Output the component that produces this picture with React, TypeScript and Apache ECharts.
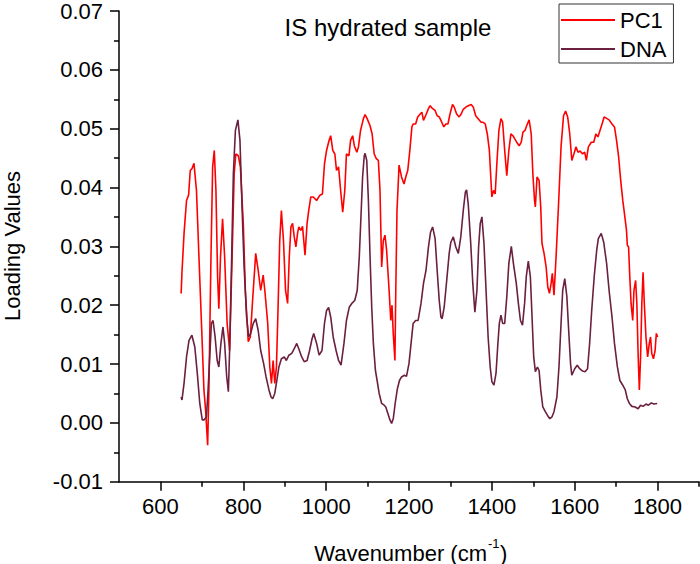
import React, { useEffect, useRef } from "react";
import * as echarts from "echarts";

const pc1Wavenumbers = [
  650, 652, 657, 663, 668, 672, 676, 681, 687, 693, 700, 705, 709, 714, 717, 722, 726, 730, 734, 738,
  741, 745, 750, 755, 761, 767, 773, 778, 782, 788, 793, 800, 805, 812, 817, 823, 830, 836, 842, 848,
  852, 859, 864, 868, 872, 876, 880, 884, 888, 892, 897, 902, 907, 911, 915, 919, 923, 927, 931, 934,
  939, 943, 949, 954, 958, 963, 969, 977, 985, 991, 996, 1001, 1007, 1011, 1016, 1021, 1025, 1030, 1035, 1040,
  1045, 1049, 1055, 1059, 1064, 1068, 1074, 1078, 1083, 1090, 1094, 1099, 1106, 1111, 1116, 1121, 1126, 1130, 1134, 1138,
  1142, 1146, 1152, 1156, 1159, 1162, 1166, 1168, 1171, 1176, 1182, 1188, 1193, 1197, 1202, 1207, 1210, 1216, 1221, 1227,
  1231, 1235, 1240, 1247, 1251, 1257, 1263, 1268, 1273, 1279, 1284, 1289, 1294, 1299, 1305, 1309, 1315, 1321, 1326, 1331,
  1338, 1343, 1350, 1355, 1361, 1367, 1374, 1378, 1384, 1389, 1394, 1397, 1400, 1404, 1408, 1412, 1417, 1422, 1426, 1431,
  1436, 1441, 1446, 1451, 1455, 1460, 1466, 1471, 1475, 1480, 1484, 1490, 1495, 1499, 1503, 1505, 1509, 1514, 1518, 1521,
  1526, 1531, 1535, 1539, 1543, 1546, 1550, 1555, 1561, 1567, 1573, 1578, 1583, 1588, 1593, 1598, 1603, 1608, 1613, 1619,
  1624, 1628, 1633, 1640, 1646, 1651, 1656, 1661, 1666, 1671, 1678, 1683, 1690, 1696, 1701, 1706, 1711, 1716, 1720, 1725,
  1727, 1730, 1733, 1736, 1740, 1743, 1747, 1750, 1753, 1756, 1759, 1762, 1765, 1768, 1772, 1776, 1780, 1783, 1786, 1790,
  1794, 1797, 1800,
];
const pc1Loadings = [
  0.022, 0.0256, 0.0322, 0.0378, 0.0387, 0.0429, 0.0432, 0.0441, 0.0395, 0.0282, 0.0152, 0.0056, 0.0022, -0.0038, 0.0056, 0.0282, 0.0435, 0.0463, 0.0395, 0.0248,
  0.0194, 0.0282, 0.0347, 0.0282, 0.0169, 0.0123, 0.0282, 0.0423, 0.0457, 0.0454, 0.0435, 0.0339, 0.0225, 0.0138, 0.0146, 0.0214, 0.0288, 0.0259, 0.0225, 0.0251,
  0.0225, 0.0169, 0.0095, 0.0067, 0.0106, 0.0067, 0.0095, 0.0197, 0.031, 0.0361, 0.031, 0.0225, 0.0203, 0.0282, 0.0333, 0.0339, 0.0316, 0.0299, 0.0322, 0.0333,
  0.0327, 0.0334, 0.0285, 0.0339, 0.0361, 0.0384, 0.0384, 0.0378, 0.0387, 0.0389, 0.044, 0.0463, 0.048, 0.0488, 0.0463, 0.0457, 0.0429, 0.0435, 0.0395, 0.0358,
  0.0395, 0.0457, 0.0454, 0.048, 0.0488, 0.0471, 0.046, 0.0469, 0.0497, 0.0517, 0.0524, 0.0517, 0.0505, 0.0491, 0.0457, 0.0449, 0.0446, 0.0395, 0.0265, 0.031,
  0.0319, 0.0293, 0.0225, 0.0174, 0.02, 0.0152, 0.0106, 0.022, 0.036, 0.0438, 0.0418, 0.0406, 0.042, 0.0429, 0.0463, 0.0503, 0.0508, 0.0508, 0.052, 0.0525,
  0.0528, 0.0514, 0.0522, 0.0534, 0.0539, 0.0534, 0.0531, 0.0522, 0.052, 0.0511, 0.0503, 0.0508, 0.0508, 0.0525, 0.0541, 0.0537, 0.0525, 0.052, 0.0525, 0.0533,
  0.0537, 0.0539, 0.0541, 0.0537, 0.0522, 0.0517, 0.0511, 0.0511, 0.0508, 0.0491, 0.0463, 0.0423, 0.0384, 0.0395, 0.0389, 0.044, 0.0497, 0.0517, 0.0511, 0.0463,
  0.042, 0.0463, 0.0491, 0.0488, 0.0483, 0.0477, 0.0471, 0.0477, 0.0494, 0.0497, 0.0505, 0.0515, 0.0491, 0.0423, 0.0378, 0.0367, 0.0418, 0.0412, 0.0367, 0.0305,
  0.0288, 0.0265, 0.0231, 0.022, 0.0237, 0.0254, 0.0217, 0.0282, 0.0372, 0.0469, 0.0522, 0.053, 0.052, 0.0491, 0.0446, 0.0457, 0.0469, 0.046, 0.0462, 0.0457,
  0.046, 0.0446, 0.0469, 0.0477, 0.0477, 0.0491, 0.0486, 0.0497, 0.0508, 0.052, 0.0517, 0.0515, 0.0508, 0.0503, 0.048, 0.0452, 0.0412, 0.0378, 0.0356, 0.0327,
  0.0302, 0.0299, 0.0248, 0.0203, 0.0174, 0.0225, 0.0242, 0.0203, 0.0118, 0.0056, 0.0112, 0.0203, 0.0256, 0.0203, 0.0146, 0.0112, 0.0135, 0.0146, 0.0118, 0.0109,
  0.0123, 0.0152, 0.0146,
];

const dnaWavenumbers = [
  650, 652, 657, 663, 669, 676, 683, 689, 695, 701, 705, 711, 715, 719, 723, 727, 732, 737, 741, 746,
  751, 755, 760, 764, 767, 772, 776, 781, 787, 792, 797, 802, 808, 813, 818, 824, 830, 836, 842, 849,
  855, 862, 867, 871, 876, 881, 886, 892, 899, 904, 910, 917, 923, 929, 934, 941, 947, 954, 960, 966,
  970, 977, 983, 990, 996, 1001, 1006, 1011, 1017, 1024, 1030, 1036, 1043, 1049, 1056, 1062, 1069, 1075, 1080, 1084,
  1088, 1092, 1094, 1098, 1102, 1106, 1110, 1114, 1119, 1123, 1128, 1134, 1140, 1144, 1149, 1154, 1158, 1162, 1167, 1172,
  1177, 1182, 1189, 1194, 1200, 1205, 1210, 1216, 1222, 1229, 1235, 1241, 1247, 1252, 1257, 1263, 1268, 1273, 1277, 1280,
  1285, 1291, 1297, 1301, 1307, 1313, 1319, 1325, 1331, 1336, 1339, 1343, 1349, 1354, 1359, 1364, 1368, 1372, 1376, 1381,
  1386, 1391, 1396, 1400, 1405, 1410, 1414, 1418, 1422, 1426, 1431, 1436, 1441, 1447, 1452, 1459, 1464, 1469, 1474, 1479,
  1483, 1488, 1493, 1497, 1501, 1505, 1510, 1514, 1518, 1523, 1529, 1534, 1540, 1545, 1550, 1557, 1562, 1567, 1571, 1576,
  1581, 1586, 1590, 1593, 1600, 1606, 1612, 1619, 1625, 1631, 1636, 1641, 1647, 1653, 1657, 1664, 1670, 1677, 1683, 1690,
  1696, 1703, 1709, 1716, 1722, 1727, 1732, 1738, 1746, 1753, 1759, 1765, 1772, 1778, 1785, 1791, 1799,
];
const dnaLoadings = [
  0.0044, 0.0039, 0.0067, 0.0112, 0.014, 0.0149, 0.0129, 0.0084, 0.0033, 0.0005, 0.0005, 0.001, 0.0056, 0.0112, 0.0169, 0.0174, 0.0146, 0.0106, 0.0095, 0.0135,
  0.0163, 0.0135, 0.0078, 0.0053, 0.0123, 0.0282, 0.0423, 0.0497, 0.0515, 0.048, 0.0367, 0.0265, 0.018, 0.0146, 0.0152, 0.0169, 0.0177, 0.0157, 0.0123, 0.0101,
  0.0078, 0.0056, 0.0044, 0.0041, 0.005, 0.0072, 0.0095, 0.0109, 0.0112, 0.0106, 0.0115, 0.0118, 0.0126, 0.0135, 0.0126, 0.0112, 0.0104, 0.0106, 0.0123, 0.0143,
  0.0152, 0.0135, 0.0115, 0.0123, 0.0169, 0.0191, 0.0196, 0.018, 0.0146, 0.0123, 0.0106, 0.0098, 0.0135, 0.0174, 0.0197, 0.0203, 0.0208, 0.0225, 0.0282, 0.035,
  0.0418, 0.0454, 0.0458, 0.0446, 0.0378, 0.0282, 0.0197, 0.0135, 0.0089, 0.0072, 0.005, 0.0033, 0.003, 0.0027, 0.0016, 0.0005, -0.0001, 0.0007, 0.0035, 0.0058,
  0.0072, 0.0078, 0.0081, 0.0079, 0.0101, 0.0135, 0.0169, 0.0174, 0.0174, 0.0203, 0.0237, 0.0259, 0.0299, 0.0324, 0.0333, 0.0313, 0.0259, 0.0208, 0.018, 0.0177,
  0.0197, 0.0242, 0.0288, 0.0307, 0.0316, 0.0299, 0.0288, 0.0316, 0.0361, 0.0392, 0.0396, 0.0372, 0.0305, 0.0237, 0.0188, 0.0225, 0.0299, 0.0339, 0.035, 0.0305,
  0.0225, 0.0146, 0.0095, 0.007, 0.0064, 0.0084, 0.0129, 0.0169, 0.0183, 0.0169, 0.0169, 0.0214, 0.0271, 0.03, 0.0271, 0.0237, 0.0203, 0.0174, 0.0166, 0.0203,
  0.0248, 0.0275, 0.0248, 0.018, 0.0112, 0.0087, 0.0095, 0.0089, 0.0056, 0.0027, 0.0019, 0.0013, 0.0007, 0.001, 0.0019, 0.0044, 0.0095, 0.0169, 0.0225, 0.0245,
  0.0215, 0.015, 0.01, 0.0081, 0.0092, 0.0098, 0.0092, 0.0088, 0.0087, 0.0092, 0.0135, 0.0191, 0.0248, 0.0293, 0.0313, 0.0322, 0.0307, 0.0271, 0.0225, 0.018,
  0.0135, 0.0095, 0.0072, 0.0064, 0.0056, 0.0041, 0.0033, 0.0028, 0.0027, 0.0024, 0.003, 0.0028, 0.0032, 0.003, 0.0034, 0.0032, 0.0033,
];

const xMajorTicks = [600, 800, 1000, 1200, 1400, 1600, 1800];
const xMinorTicks = [700, 900, 1100, 1300, 1500, 1700, 1900];
const seriesNames = ["PC1", "DNA"];

const FONT = "'Liberation Sans', Arial, sans-serif";

function zip(xs: number[], ys: number[]) {
  return xs.map((x, i) => [x, ys[i]]);
}

export default function App() {
  const ref = useRef<HTMLDivElement>(null);

  useEffect(() => {
    const chart = echarts.init(ref.current!, null, { renderer: "svg" });
    const axisLineStyle = { color: "#000", width: 1.5 };
    chart.setOption({
      animation: false,
      backgroundColor: "#fff",
      grid: { left: 119, right: 1, top: 10.4, bottom: 82.3, containLabel: false },
      legend: {
        data: seriesNames,
        orient: "vertical",
        left: 559,
        top: 4,
        icon: "rect",
        itemWidth: 54,
        itemHeight: 2,
        itemGap: 7,
        padding: [5, 7, 3, 2],
        borderColor: "#333",
        borderWidth: 1,
        textStyle: { fontSize: 22, color: "#000", fontFamily: FONT },
      },
      xAxis: [
        {
          type: "value",
          min: 500,
          max: 1900,
          position: "bottom",
          axisLine: { show: true, onZero: false, lineStyle: axisLineStyle },
          axisTick: { show: true, length: 9, customValues: xMajorTicks, lineStyle: axisLineStyle },
          axisLabel: {
            customValues: xMajorTicks,
            fontSize: 22,
            color: "#000",
            margin: 14,
            fontFamily: FONT,
            formatter: (v: number) => String(v),
          },
          splitLine: { show: false },
        },
        {
          type: "value",
          min: 500,
          max: 1900,
          position: "bottom",
          axisLine: { show: false, onZero: false },
          axisTick: { show: true, length: 5, customValues: xMinorTicks, lineStyle: axisLineStyle },
          axisLabel: { show: false },
          splitLine: { show: false },
        },
      ],
      yAxis: {
        type: "value",
        min: -0.01,
        max: 0.07,
        interval: 0.01,
        axisLine: { show: true, onZero: false, lineStyle: axisLineStyle },
        axisTick: { show: true, length: 9, lineStyle: axisLineStyle },
        minorTick: { show: true, splitNumber: 2, length: 5, lineStyle: axisLineStyle },
        axisLabel: {
          fontSize: 22,
          color: "#000",
          margin: 16,
          fontFamily: FONT,
          formatter: (v: number) => v.toFixed(2),
        },
        splitLine: { show: false },
        minorSplitLine: { show: false },
      },
      graphic: [
        {
          type: "text",
          x: 388,
          y: 27,
          style: { text: "IS hydrated sample", align: "center", verticalAlign: "middle", fontSize: 24, fill: "#000", fontFamily: FONT },
        },
        {
          type: "text",
          x: 12,
          y: 246,
          rotation: Math.PI / 2,
          style: { text: "Loading Values", align: "center", verticalAlign: "middle", fontSize: 22, fill: "#000", fontFamily: FONT },
        },
        {
          type: "text",
          x: 487,
          y: 553,
          style: { text: "Wavenumber (cm", align: "right", verticalAlign: "middle", fontSize: 22, fill: "#000", fontFamily: FONT },
        },
        {
          type: "text",
          x: 488,
          y: 543,
          style: { text: "-1", align: "left", verticalAlign: "middle", fontSize: 13, fill: "#000", fontFamily: FONT },
        },
        {
          type: "text",
          x: 500,
          y: 553,
          style: { text: ")", align: "left", verticalAlign: "middle", fontSize: 22, fill: "#000", fontFamily: FONT },
        },
      ],
      series: [
        {
          name: seriesNames[0],
          type: "line",
          xAxisIndex: 0,
          data: zip(pc1Wavenumbers, pc1Loadings),
          showSymbol: false,
          symbol: "none",
          lineStyle: { color: "#ff0000", width: 1.6 },
          itemStyle: { color: "#ff0000" },
          z: 2,
        },
        {
          name: seriesNames[1],
          type: "line",
          xAxisIndex: 0,
          data: zip(dnaWavenumbers, dnaLoadings),
          showSymbol: false,
          symbol: "none",
          lineStyle: { color: "#6b2040", width: 1.6 },
          itemStyle: { color: "#6b2040" },
          z: 3,
        },
      ],
    });
    return () => chart.dispose();
  }, []);

  return (
    <div
      ref={ref}
      style={{ position: "absolute", left: 0, top: 0, width: 700, height: 564, background: "#fff" }}
    />
  );
}
